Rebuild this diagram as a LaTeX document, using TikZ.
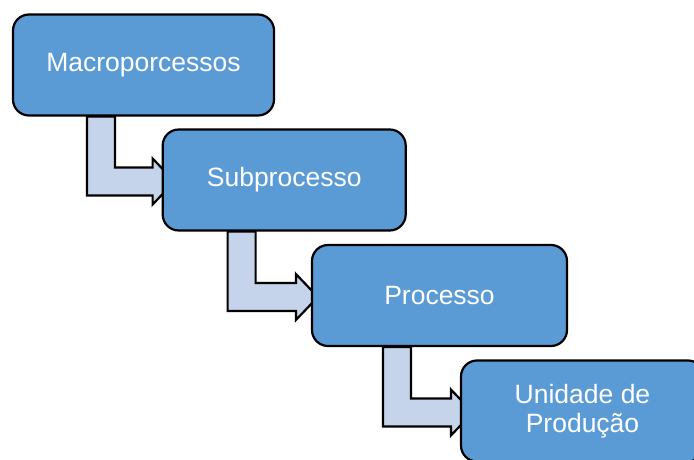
\documentclass[tikz,border=0pt]{standalone}
\usepackage{fontspec}
\setmainfont{Liberation Sans}
\usepackage{tikz}
\usetikzlibrary{backgrounds}
\definecolor{caixa}{RGB}{91,155,213}
\definecolor{setacor}{RGB}{197,212,234}
\tikzstyle{etapa} = [
    rectangle,
    draw,
    fill = caixa,
    text = white,
    text centered,
    rounded corners = 16pt,
    line width = 2.2pt,
    minimum height = 101pt,
    font = \fontsize{26.5}{29}\selectfont
]
\tikzstyle{seta} = [
    draw,
    fill = setacor,
    line width = 2.2pt
]
\begin{document}
\begin{tikzpicture}[x=1pt, y=1pt]
    \useasboundingbox (0,0) rectangle (694,459);
    \node[etapa, minimum width = 261pt] (mac) at (143.5,394) {Macroporcessos};
    \node[etapa, minimum width = 243pt] (sub) at (284.2,279) {Subprocesso};
    \node[etapa, minimum width = 255pt] (pro) at (439.5,163.5) {Processo};
    \node[etapa, minimum width = 243pt, align = center] (uni) at (582.5,48) {Unidade de\\Produção};
    % setas dobradas atras das caixas
    \begin{pgfonlayer}{background}
        \foreach \a/\b/\dx/\gap in {mac/sub/75/9, sub/pro/66/15, pro/uni/72/9}
            \draw[seta] ([xshift = \dx pt]\a.south west)
                |- ([xshift = -\gap pt, yshift = -15.5pt]\b.west)
                -- ++(0pt,-9pt) -- ++(22pt,23pt) -- ++(-22pt,23pt) -- ++(0pt,-9pt)
                -| ([xshift = {(\dx+28)*1pt}]\a.south west) -- cycle;
    \end{pgfonlayer}
\end{tikzpicture}
\end{document}
